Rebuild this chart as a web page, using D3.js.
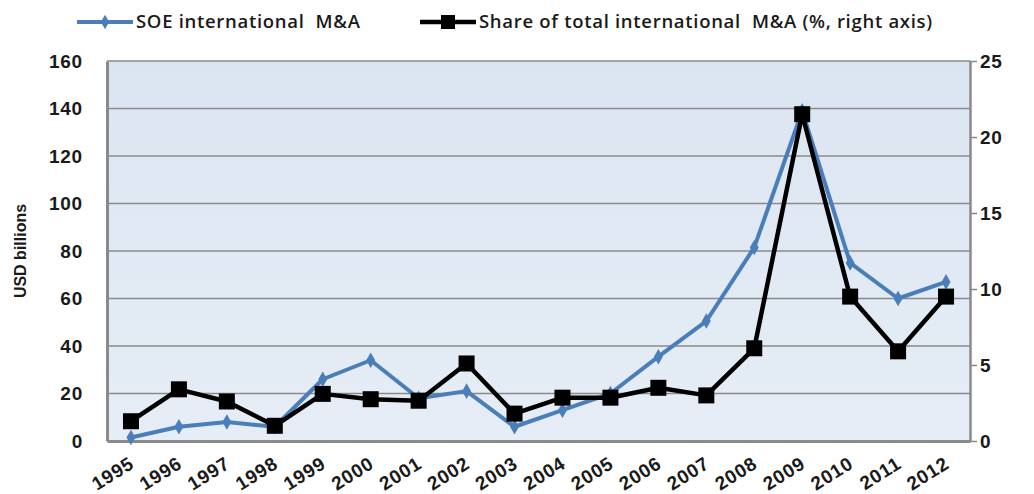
<!DOCTYPE html>
<html>
<head>
<meta charset="utf-8">
<script src="https://cdn.jsdelivr.net/npm/d3@7"></script>
<style>
  body { margin: 0; background: #fff; }
  svg { display: block; font-family: "Open Sans", "Noto Sans", sans-serif; }
</style>
</head>
<body>
<div id="chart"></div>
<script>
const years = ["1995", "1996", "1997", "1998", "1999", "2000", "2001", "2002", "2003",
  "2004", "2005", "2006", "2007", "2008", "2009", "2010", "2011", "2012"];
const soeValues = [1.5, 6, 8, 6, 26, 34, 18, 21, 6, 13, 20, 35.5, 50.5, 81.5, 139, 75, 60, 67];
const shareValues = [1.3, 3.4, 2.6, 1.0, 3.1, 2.75, 2.65, 5.1, 1.8, 2.85, 2.85, 3.5, 3.0, 6.1, 21.5, 9.5, 5.9, 9.5];
const leftTicks = [0, 20, 40, 60, 80, 100, 120, 140, 160];
const rightTicks = [0, 5, 10, 15, 20, 25];

const width = 1034;
const height = 494;
const margin = { top: 61, right: 64, bottom: 53, left: 107 };
const innerW = width - margin.left - margin.right;
const innerH = height - margin.top - margin.bottom;

const blue = "#4a7ebb";

const svg = d3.select("#chart").append("svg")
  .attr("width", width)
  .attr("height", height);

const defs = svg.append("defs");
const grad = defs.append("linearGradient")
  .attr("id", "bg").attr("x1", 0).attr("y1", 0).attr("x2", 0).attr("y2", 1);
grad.append("stop").attr("offset", "0%").attr("stop-color", "#dbe5f1");
grad.append("stop").attr("offset", "100%").attr("stop-color", "#e6edf6");

const g = svg.append("g").attr("transform", `translate(${margin.left},${margin.top})`);

const x = d3.scalePoint().domain(years).range([0, innerW]).padding(0.5);
const yLeft = d3.scaleLinear().domain([0, 160]).range([innerH, 0]);
const yRight = d3.scaleLinear().domain([0, 25]).range([innerH, 0]);

g.append("rect")
  .attr("width", innerW)
  .attr("height", innerH)
  .attr("fill", "url(#bg)");

// gridlines
g.append("g")
  .selectAll("line")
  .data(leftTicks.slice(1))
  .join("line")
  .attr("x1", 0)
  .attr("x2", innerW)
  .attr("y1", (d) => yLeft(d))
  .attr("y2", (d) => yLeft(d))
  .attr("stroke", "#8a8a8a")
  .attr("stroke-width", 1.5);

// left axis
const leftAxis = g.append("g")
  .call(d3.axisLeft(yLeft).tickValues(leftTicks).tickSize(0).tickPadding(24));
leftAxis.select(".domain").attr("stroke", "#8a8a8a").attr("stroke-width", 3);

// right axis
const rightAxis = g.append("g")
  .attr("transform", `translate(${innerW},0)`)
  .call(d3.axisRight(yRight).tickValues(rightTicks).tickSizeOuter(0).tickSizeInner(7).tickPadding(3));
rightAxis.select(".domain").attr("stroke", "#8a8a8a").attr("stroke-width", 2.5);
rightAxis.selectAll(".tick line").attr("stroke", "#8a8a8a").attr("stroke-width", 1.5);

// bottom axis
const bottomAxis = g.append("g")
  .attr("transform", `translate(0,${innerH})`)
  .call(d3.axisBottom(x).tickSize(0).tickSizeOuter(0));
bottomAxis.select(".domain").attr("stroke", "#8a8a8a").attr("stroke-width", 3);
bottomAxis.selectAll(".tick text")
  .attr("text-anchor", "end")
  .attr("dy", null)
  .attr("y", 0)
  .attr("transform", "translate(4,26) rotate(-32)");

svg.selectAll(".tick text")
  .attr("fill", "#1a1a1a")
  .style("font-size", "19px")
  .style("letter-spacing", "0.8px")
  .style("font-weight", "600");

// y axis title
svg.append("text")
  .attr("transform", `translate(26,${margin.top + innerH / 2}) rotate(-90)`)
  .attr("text-anchor", "middle")
  .style("font-family", "'Liberation Sans Narrow', 'Arial Narrow', sans-serif")
  .style("font-size", "16px")
  .style("font-weight", "bold")
  .attr("fill", "#1a1a1a")
  .text("USD billions");

// SOE line
const soeLine = d3.line()
  .x((d, i) => x(years[i]))
  .y((d) => yLeft(d));

g.append("path")
  .datum(soeValues)
  .attr("fill", "none")
  .attr("stroke", blue)
  .attr("stroke-width", 4)
  .attr("stroke-linejoin", "round")
  .attr("d", soeLine);

g.append("g")
  .selectAll("path")
  .data(soeValues)
  .join("path")
  .attr("d", d3.symbol(d3.symbolDiamond, 70))
  .attr("transform", (d, i) => `translate(${x(years[i])},${yLeft(d)})`)
  .attr("fill", blue);

// Share line
const shareLine = d3.line()
  .x((d, i) => x(years[i]))
  .y((d) => yRight(d));

g.append("path")
  .datum(shareValues)
  .attr("fill", "none")
  .attr("stroke", "#000")
  .attr("stroke-width", 4.5)
  .attr("stroke-linejoin", "round")
  .attr("d", shareLine);

g.append("g")
  .selectAll("rect")
  .data(shareValues)
  .join("rect")
  .attr("x", (d, i) => x(years[i]) - 8)
  .attr("y", (d) => yRight(d) - 8)
  .attr("width", 16)
  .attr("height", 16)
  .attr("fill", "#000");

// legend
const legend = svg.append("g").attr("transform", "translate(0,22)");
const legendItems = [
  { label: "SOE international  M&A", x: 77, color: blue, marker: "diamond" },
  { label: "Share of total international  M&A (%, right axis)", x: 420, color: "#000", marker: "square" },
];
legendItems.forEach((item) => {
  const lg = legend.append("g").attr("transform", `translate(${item.x},0)`);
  lg.append("line")
    .attr("x1", 0).attr("x2", 56)
    .attr("stroke", item.color)
    .attr("stroke-width", item.marker === "square" ? 4.5 : 4);
  if (item.marker === "square") {
    lg.append("rect").attr("x", 21).attr("y", -7).attr("width", 14).attr("height", 14).attr("fill", "#000");
  } else {
    lg.append("path").attr("d", d3.symbol(d3.symbolDiamond, 60)).attr("transform", "translate(28,0)").attr("fill", item.color);
  }
  lg.append("text")
    .attr("x", 59)
    .attr("dy", "0.35em")
    .style("font-size", "18.5px")
    .style("letter-spacing", "0.7px")
    .style("font-weight", "600")
    .style("white-space", "pre")
    .attr("fill", "#1a1a1a")
    .text(item.label);
});
</script>
</body>
</html>
